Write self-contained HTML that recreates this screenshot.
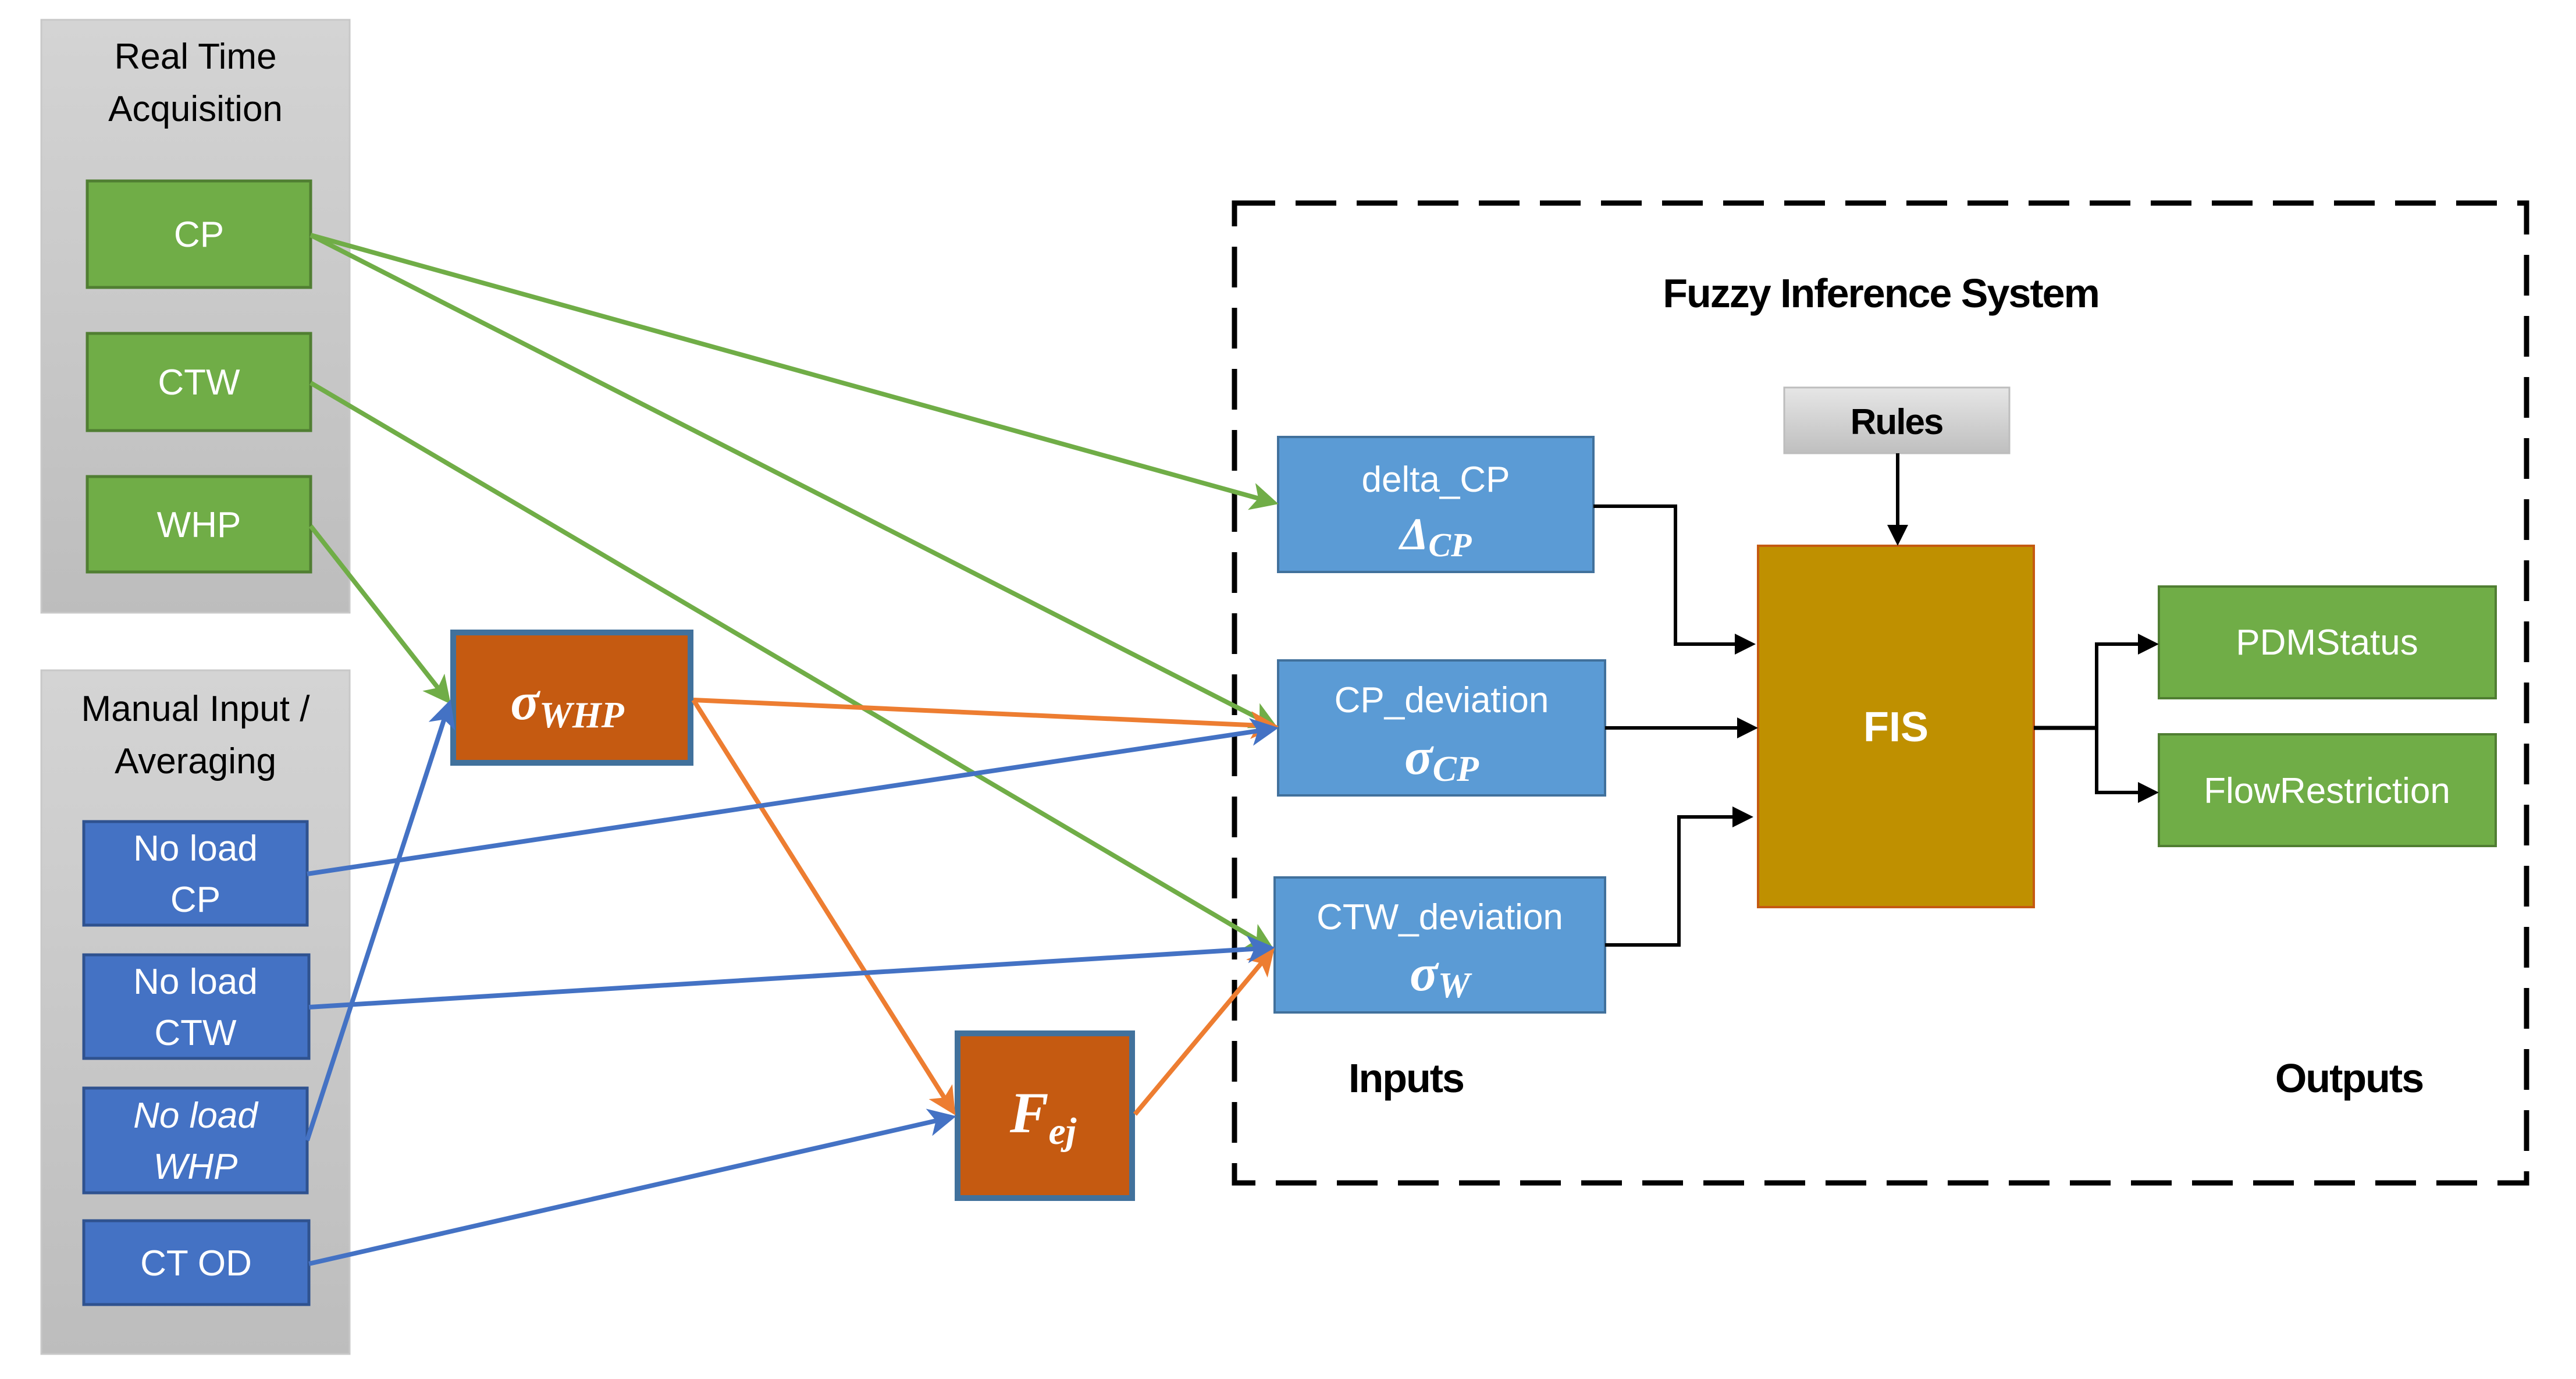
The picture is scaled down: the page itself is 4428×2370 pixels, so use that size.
<!DOCTYPE html>
<html><head><meta charset="utf-8"><style>
html,body{margin:0;padding:0;background:#fff;}
svg{display:block}
text{font-family:"Liberation Sans",sans-serif;}
.w{fill:#fff;font-size:62px;text-anchor:middle}
.m{fill:#fff;font-family:"Liberation Serif",serif;font-weight:bold;font-style:italic;text-anchor:middle}
.b{fill:#000;font-weight:bold;text-anchor:middle;letter-spacing:-2px}
</style></head><body>
<svg width="4428" height="2370" viewBox="0 0 4428 2370" xmlns="http://www.w3.org/2000/svg">
<defs>
<linearGradient id="gp" x1="0" y1="0" x2="0" y2="1"><stop offset="0" stop-color="#d4d4d4"/><stop offset="1" stop-color="#bdbdbd"/></linearGradient>
<linearGradient id="gr" x1="0" y1="0" x2="0" y2="1"><stop offset="0" stop-color="#e6e6e6"/><stop offset="1" stop-color="#bfbfbf"/></linearGradient>
<marker id="ag" markerWidth="6" markerHeight="6" refX="5" refY="3" orient="auto" markerUnits="strokeWidth"><path d="M0,0 L6,3 L0,6 L1.5,3 Z" fill="#70ad47"/></marker>
<marker id="ao" markerWidth="6" markerHeight="6" refX="5" refY="3" orient="auto" markerUnits="strokeWidth"><path d="M0,0 L6,3 L0,6 L1.5,3 Z" fill="#ed7d31"/></marker>
<marker id="ab" markerWidth="6" markerHeight="6" refX="5" refY="3" orient="auto" markerUnits="strokeWidth"><path d="M0,0 L6,3 L0,6 L1.5,3 Z" fill="#4472c4"/></marker>
<marker id="ak" markerWidth="6" markerHeight="6" refX="5" refY="3" orient="auto" markerUnits="strokeWidth"><path d="M0,0 L6,3 L0,6 Z" fill="#000"/></marker>
</defs>

<rect x="71" y="34" width="530" height="1019" fill="url(#gp)" stroke="#c8c8c8" stroke-width="3"/>
<text x="336" y="118" font-size="62" text-anchor="middle">Real Time</text>
<text x="336" y="208" font-size="62" text-anchor="middle">Acquisition</text>
<rect x="71" y="1152" width="530" height="1175" fill="url(#gp)" stroke="#c8c8c8" stroke-width="3"/>
<text x="336" y="1239" font-size="62" text-anchor="middle">Manual Input /</text>
<text x="336" y="1329" font-size="62" text-anchor="middle">Averaging</text>

<g fill="#70ad47" stroke="#507e32" stroke-width="5">
<rect x="150" y="311" width="384" height="183"/>
<rect x="150" y="573" width="384" height="167"/>
<rect x="150" y="819" width="384" height="164"/>
</g>
<text class="w" x="342" y="424">CP</text>
<text class="w" x="342" y="678">CTW</text>
<text class="w" x="342" y="923">WHP</text>

<g fill="#4472c4" stroke="#2f528f" stroke-width="5">
<rect x="144" y="1412" width="384" height="178"/>
<rect x="144" y="1641" width="387" height="178"/>
<rect x="144" y="1870" width="384" height="180"/>
<rect x="144" y="2098" width="387" height="144"/>
</g>
<text class="w" x="336" y="1479">No load</text><text class="w" x="336" y="1567">CP</text>
<text class="w" x="336" y="1708">No load</text><text class="w" x="336" y="1796">CTW</text>
<text class="w" x="336" y="1938" font-style="italic">No load</text><text class="w" x="336" y="2026" font-style="italic">WHP</text>
<text class="w" x="337" y="2192">CT OD</text>

<g fill="#c55a11" stroke="#41719c" stroke-width="10">
<rect x="779" y="1087" width="408" height="224"/>
<rect x="1646" y="1776" width="300" height="283"/>
</g>
<text class="m" x="975" y="1236" font-size="92">σ<tspan font-size="64" dy="14">WHP</tspan></text>
<text class="m" x="1793" y="1946" font-size="100">F<tspan font-size="66" dy="20">ej</tspan></text>

<rect x="2122" y="349" width="2221" height="1684" fill="none" stroke="#000" stroke-width="9" stroke-dasharray="70,35"/>
<text class="b" x="3233" y="528" font-size="70">Fuzzy Inference System</text>

<rect x="3067" y="666" width="387" height="113" fill="url(#gr)" stroke="#bdbdbd" stroke-width="3"/>
<text class="b" x="3260" y="746" font-size="62">Rules</text>

<g fill="#5b9bd5" stroke="#41719c" stroke-width="4">
<rect x="2197" y="751" width="542" height="232"/>
<rect x="2197" y="1135" width="562" height="232"/>
<rect x="2191" y="1508" width="568" height="232"/>
</g>
<text class="w" x="2468" y="845">delta_CP</text>
<text class="m" x="2468" y="944" font-size="78" font-weight="normal" font-style="normal">Δ<tspan font-size="58" dy="12" font-weight="bold" font-style="italic">CP</tspan></text>
<text class="w" x="2478" y="1224">CP_deviation</text>
<text class="m" x="2478" y="1330" font-size="90">σ<tspan font-size="62" dy="12">CP</tspan></text>
<text class="w" x="2475" y="1597">CTW_deviation</text>
<text class="m" x="2475" y="1702" font-size="90">σ<tspan font-size="62" dy="12">W</tspan></text>

<rect x="3022" y="938" width="474" height="621" fill="#bf9000" stroke="#c55a11" stroke-width="4"/>
<text x="3259" y="1274" font-size="72" font-weight="bold" fill="#fff" text-anchor="middle">FIS</text>

<g fill="#70ad47" stroke="#507e32" stroke-width="4">
<rect x="3711" y="1008" width="579" height="192"/>
<rect x="3711" y="1262" width="579" height="192"/>
</g>
<text class="w" x="4000" y="1125">PDMStatus</text>
<text class="w" x="4000" y="1380">FlowRestriction</text>

<text class="b" x="2417" y="1877" font-size="70">Inputs</text>
<text class="b" x="4038" y="1877" font-size="70">Outputs</text>

<g fill="none" stroke="#000" stroke-width="6" marker-end="url(#ak)">
<polyline points="2739,870 2880,870 2880,1107 3012,1107"/>
<polyline points="2759,1251 3016,1251"/>
<polyline points="2759,1624 2886,1624 2886,1404 3008,1404"/>
<polyline points="3262,779 3262,932"/>
<polyline points="3604,1107 3705,1107"/>
<polyline points="3604,1362 3705,1362"/>
</g>
<polyline points="3496,1251 3604,1251" fill="none" stroke="#000" stroke-width="7"/>
<line x1="3604" y1="1104" x2="3604" y2="1365" stroke="#000" stroke-width="6"/>

<g fill="none" stroke-width="8">
<line x1="534" y1="404" x2="2190" y2="864" stroke="#70ad47" marker-end="url(#ag)"/>
<line x1="534" y1="404" x2="2190" y2="1248" stroke="#70ad47" marker-end="url(#ag)"/>
<line x1="534" y1="658" x2="2184" y2="1629" stroke="#70ad47" marker-end="url(#ag)"/>
<line x1="534" y1="904" x2="770" y2="1204" stroke="#70ad47" marker-end="url(#ag)"/>
<line x1="1192" y1="1203" x2="2190" y2="1248" stroke="#ed7d31" marker-end="url(#ao)"/>
<line x1="1192" y1="1203" x2="1638" y2="1910" stroke="#ed7d31" marker-end="url(#ao)"/>
<line x1="1951" y1="1915" x2="2186" y2="1634" stroke="#ed7d31" marker-end="url(#ao)"/>
<line x1="528" y1="1502" x2="2190" y2="1252" stroke="#4472c4" marker-end="url(#ab)"/>
<line x1="531" y1="1731" x2="2184" y2="1629" stroke="#4472c4" marker-end="url(#ab)"/>
<line x1="528" y1="1960" x2="772" y2="1210" stroke="#4472c4" marker-end="url(#ab)"/>
<line x1="531" y1="2172" x2="1636" y2="1920" stroke="#4472c4" marker-end="url(#ab)"/>
</g>
</svg>
</body></html>
